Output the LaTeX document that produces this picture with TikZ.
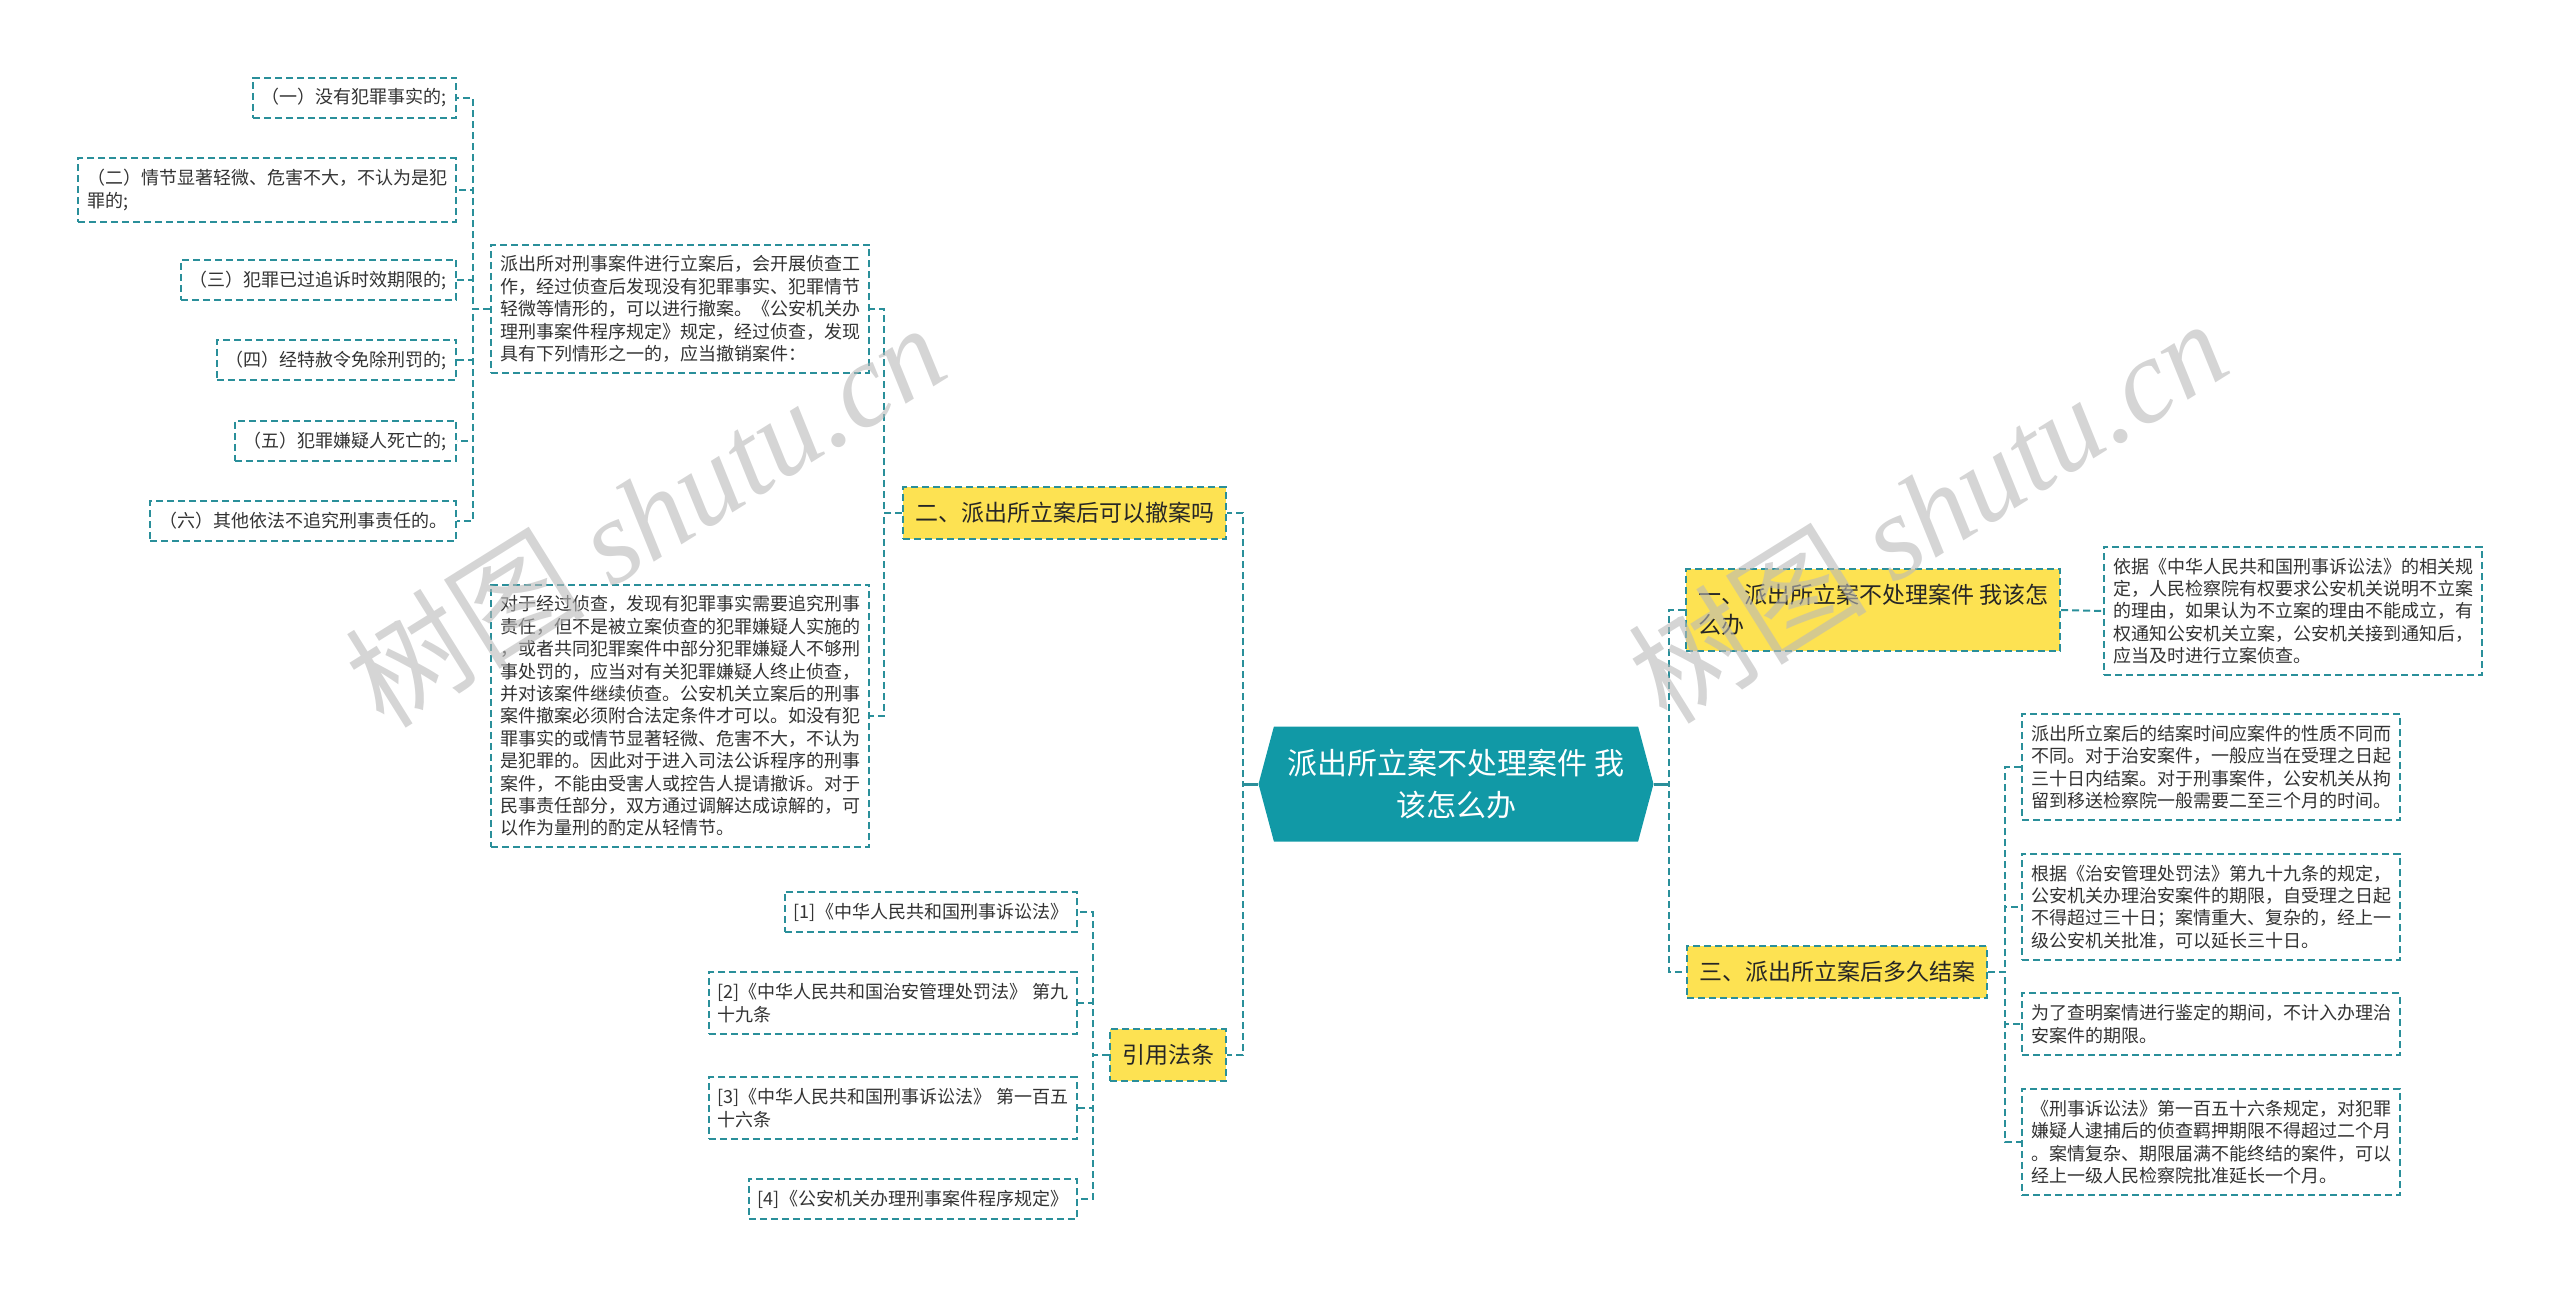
\documentclass[tikz,border=0pt]{standalone}
\usepackage{fontspec}
\setmainfont{Noto Sans CJK SC}
\newfontfamily\wmfont{Liberation Serif}
\usetikzlibrary{shapes.symbols}
\definecolor{linkteal}{HTML}{2A8F9A}
\definecolor{rootteal}{HTML}{1199A6}
\definecolor{branchyellow}{HTML}{FDE252}
\definecolor{leafgray}{HTML}{333333}

\begin{document}
\begin{tikzpicture}[x=0.5pt, y=-0.5pt,
  link/.style={draw=linkteal, line width=1pt, dash pattern=on 3.5pt off 2pt},
  leaf/.style={link, fill=white, align=left, inner xsep=4.5pt, inner ysep=5.5pt,
    text=leafgray, font=\fontsize{9}{11.2}\selectfont},
  branch/.style={link, fill=branchyellow, align=left, inner xsep=6pt, inner ysep=7.5pt,
    text=black!85, font=\fontsize{11.5}{15}\selectfont},
  root/.style={signal, signal to=west and east, signal pointer angle=150, fill=rootteal,
    text=white, align=center, minimum width=197.5pt, minimum height=57.5pt,
    font=\fontsize{15}{20.8}\selectfont},
  watermark/.style={rotate=32, text=gray!55, opacity=0.6, font=\fontsize{60}{60}\selectfont}]
  \useasboundingbox (0,0) rectangle (2560,1307);

  \node[root] (root) at (1456,784) {派出所立案不处理案件 我\\该怎么办};

  \node[branch, anchor=east] (b2) at (1227,513) {二、派出所立案后可以撤案吗};
  \node[branch, anchor=east] (b4) at (1227,1055) {引用法条};
  \node[branch, anchor=west] (b1) at (1685,610) {一、派出所立案不处理案件 我该怎\\么办};
  \node[branch, anchor=west] (b3) at (1686,972) {三、派出所立案后多久结案};

  \node[leaf, anchor=east] (ta) at (870,309) {派出所对刑事案件进行立案后，会开展侦查工\\作，经过侦查后发现没有犯罪事实、犯罪情节\\轻微等情形的，可以进行撤案。《公安机关办\\理刑事案件程序规定》规定，经过侦查，发现\\具有下列情形之一的，应当撤销案件：};
  \node[leaf, anchor=east] (tb) at (870,716) {对于经过侦查，发现有犯罪事实需要追究刑事\\责任，但不是被立案侦查的犯罪嫌疑人实施的\\，或者共同犯罪案件中部分犯罪嫌疑人不够刑\\事处罚的，应当对有关犯罪嫌疑人终止侦查，\\并对该案件继续侦查。公安机关立案后的刑事\\案件撤案必须附合法定条件才可以。如没有犯\\罪事实的或情节显著轻微、危害不大，不认为\\是犯罪的。因此对于进入司法公诉程序的刑事\\案件，不能由受害人或控告人提请撤诉。对于\\民事责任部分，双方通过调解达成谅解的，可\\以作为量刑的酌定从轻情节。};

  \node[leaf, anchor=east] (a1) at (457,98) {（一）没有犯罪事实的;};
  \node[leaf, anchor=east] (a2) at (457,190) {（二）情节显著轻微、危害不大，不认为是犯\\罪的;};
  \node[leaf, anchor=east] (a3) at (457,280) {（三）犯罪已过追诉时效期限的;};
  \node[leaf, anchor=east] (a4) at (457,360) {（四）经特赦令免除刑罚的;};
  \node[leaf, anchor=east] (a5) at (457,441) {（五）犯罪嫌疑人死亡的;};
  \node[leaf, anchor=east] (a6) at (457,521) {（六）其他依法不追究刑事责任的。};

  \node[leaf, anchor=east] (r1) at (1078,912) {[1]《中华人民共和国刑事诉讼法》};
  \node[leaf, anchor=east] (r2) at (1078,1003) {[2]《中华人民共和国治安管理处罚法》 第九\\十九条};
  \node[leaf, anchor=east] (r3) at (1078,1108) {[3]《中华人民共和国刑事诉讼法》 第一百五\\十六条};
  \node[leaf, anchor=east] (r4) at (1078,1199) {[4]《公安机关办理刑事案件程序规定》};

  \node[leaf, anchor=west] (tc) at (2103,611) {依据《中华人民共和国刑事诉讼法》的相关规\\定，人民检察院有权要求公安机关说明不立案\\的理由，如果认为不立案的理由不能成立，有\\权通知公安机关立案，公安机关接到通知后，\\应当及时进行立案侦查。};

  \node[leaf, anchor=west] (td) at (2021,767) {派出所立案后的结案时间应案件的性质不同而\\不同。对于治安案件，一般应当在受理之日起\\三十日内结案。对于刑事案件，公安机关从拘\\留到移送检察院一般需要二至三个月的时间。};
  \node[leaf, anchor=west] (te) at (2021,907) {根据《治安管理处罚法》第九十九条的规定，\\公安机关办理治安案件的期限，自受理之日起\\不得超过三十日；案情重大、复杂的，经上一\\级公安机关批准，可以延长三十日。};
  \node[leaf, anchor=west] (tf) at (2021,1024) {为了查明案情进行鉴定的期间，不计入办理治\\安案件的期限。};
  \node[leaf, anchor=west] (tg) at (2021,1142) {《刑事诉讼法》第一百五十六条规定，对犯罪\\嫌疑人逮捕后的侦查羁押期限不得超过二个月\\。案情复杂、期限届满不能终结的案件，可以\\经上一级人民检察院批准延长一个月。};

  \draw[linkteal, line width=1.5pt] (root.west) -- +(-15,0);
  \draw[linkteal, line width=1.5pt] (root.east) -- +(15,0);
  \draw[link] (root.west) -- +(-15,0) |- (b2.east);
  \draw[link] (root.west) -- +(-15,0) |- (b4.east);
  \draw[link] (root.east) -- +(15,0) |- (b1.west);
  \draw[link] (root.east) -- +(15,0) |- (b3.west);

  \draw[link] (b2.west) -- +(-18,0) |- (ta.east);
  \draw[link] (b2.west) -- +(-18,0) |- (tb.east);
  \draw[link] (ta.west) -- +(-17,0) |- (a1.east);
  \draw[link] (ta.west) -- +(-17,0) |- (a2.east);
  \draw[link] (ta.west) -- +(-17,0) |- (a3.east);
  \draw[link] (ta.west) -- +(-17,0) |- (a4.east);
  \draw[link] (ta.west) -- +(-17,0) |- (a5.east);
  \draw[link] (ta.west) -- +(-17,0) |- (a6.east);

  \draw[link] (b4.west) -- +(-16,0) |- (r1.east);
  \draw[link] (b4.west) -- +(-16,0) |- (r2.east);
  \draw[link] (b4.west) -- +(-16,0) |- (r3.east);
  \draw[link] (b4.west) -- +(-16,0) |- (r4.east);

  \draw[link] (b1.east) -- (tc.west);
  \draw[link] (b3.east) -- +(17,0) |- (td.west);
  \draw[link] (b3.east) -- +(17,0) |- (te.west);
  \draw[link] (b3.east) -- +(17,0) |- (tf.west);
  \draw[link] (b3.east) -- +(17,0) |- (tg.west);

  \node[watermark] (wm1) at (645,514) {树图 {\wmfont\itshape shutu.cn}};
  \node[watermark] (wm2) at (1927,510) {树图 {\wmfont\itshape shutu.cn}};
\end{tikzpicture}
\end{document}
